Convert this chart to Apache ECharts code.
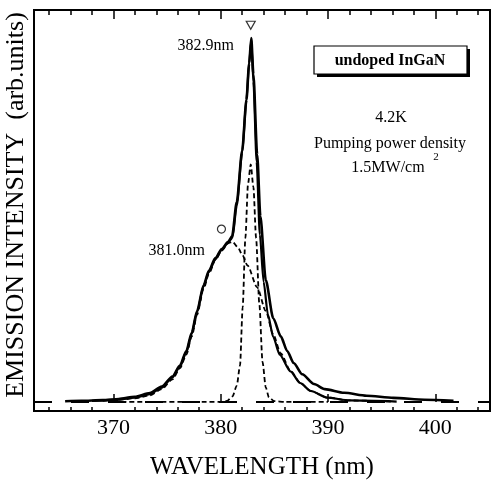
<!DOCTYPE html>
<html>
<head>
<meta charset="utf-8">
<script src="https://cdn.jsdelivr.net/npm/echarts@6/dist/echarts.min.js"></script>
<style>
html,body{margin:0;padding:0;background:#fff;}
#chart{width:492px;height:485px;}
</style>
</head>
<body>
<div id="chart"></div>
<script>
// ---- data ----
const majorTicks = [370, 380, 390, 400];
const minorTicks = [364, 366, 368, 372, 374, 376, 378, 382, 384, 386, 388, 392, 394, 396, 398, 402, 404];

// measured spectrum (outer solid line)
const measured = [
  [365.5,0.002],[367,0.003],[369,0.005],[370.5,0.008],[372,0.014],[373.4,0.024],[374.5,0.042],
  [375.5,0.07],[376.2,0.1],[376.8,0.14],[377.3,0.19],[377.8,0.25],[378.4,0.32],[378.9,0.36],
  [379.5,0.395],[380.1,0.42],[380.7,0.44],[381.06,0.455],[381.5,0.55],[382.0,0.69],[382.4,0.83],
  [382.65,0.93],[382.85,1.0],[383.05,0.9],[383.4,0.68],[383.7,0.51],[384.2,0.335],[384.9,0.23],
  [385.6,0.18],[386.2,0.14],[386.8,0.107],[387.6,0.076],[388.7,0.049],[389.7,0.035],[391.5,0.025],
  [393.6,0.017],[396.1,0.011],[399,0.006],[401.7,0.003]
];

// fitted sum (inner solid line)
const fitSum = [
  [368,0.003],[370,0.005],[372,0.012],[373.4,0.021],[374.5,0.039],[375.5,0.067],[376.2,0.097],
  [376.8,0.137],[377.3,0.187],[377.8,0.247],[378.4,0.317],[378.9,0.357],[379.5,0.392],[380.1,0.418],
  [380.7,0.438],[381.1,0.452],[381.5,0.54],[382.0,0.685],[382.4,0.83],[382.65,0.93],[382.85,0.99],
  [383.05,0.88],[383.35,0.66],[383.65,0.46],[384.0,0.33],[384.4,0.24],[384.9,0.178],[385.5,0.13],
  [386.5,0.084],[387.4,0.052],[388.4,0.03],[389.9,0.012],[392,0.004],[396.4,0.001]
];

// broad component (dashed), peak near 381.0 nm
const broadBand = [
  [369,0.003],[370.5,0.006],[372,0.01],[373.4,0.018],[374.5,0.035],[375.5,0.062],[376.2,0.092],
  [376.8,0.13],[377.3,0.18],[377.8,0.24],[378.4,0.31],[378.9,0.352],[379.5,0.39],[380.1,0.416],
  [380.7,0.436],[381.1,0.44],[381.6,0.425],[382.0,0.405],[382.5,0.375],[383.4,0.315],[384.2,0.25],
  [384.9,0.185],[385.6,0.133],[386.5,0.086],[387.4,0.053],[388.4,0.03],[389.9,0.012],[392,0.004],[396,0.001]
];

// narrow component (dashed), peak near 382.9 nm
const narrowBand = [
  [370,0],[380,0],[380.6,0.003],[381.1,0.015],[381.5,0.045],[381.8,0.1],[382.05,0.26],[382.3,0.45],
  [382.55,0.6],[382.8,0.653],[383.05,0.59],[383.3,0.45],[383.6,0.27],[383.9,0.11],[384.2,0.04],
  [384.5,0.012],[385,0.002],[386,0],[390,0]
];

// peak markers
const triangleMark = [[382.8, 1.035]];
const circleMark = [[380.07, 0.475]];

const FONT = '"Liberation Serif", "Times New Roman", serif';
const chart = echarts.init(document.getElementById('chart'), null, {renderer: 'canvas'});

const xBase = {
  type: 'value', min: 362.6, max: 405.1, gridIndex: 0,
  axisLine: {show: false}, splitLine: {show: false}
};

const option = {
  animation: false,
  backgroundColor: '#fff',
  grid: {left: 34, right: 2, top: 10, bottom: 72, show: true, borderColor: '#000', borderWidth: 2, backgroundColor: 'transparent'},
  xAxis: [
    Object.assign({}, xBase, {
      position: 'bottom',
      axisTick: {show: true, inside: true, length: 8, lineStyle: {color: '#000', width: 1.5}, customValues: majorTicks},
      axisLabel: {show: true, customValues: majorTicks, color: '#000', fontFamily: FONT, fontSize: 22, margin: 6},
      name: 'WAVELENGTH (nm)', nameLocation: 'middle', nameGap: 44,
      nameTextStyle: {color: '#000', fontFamily: FONT, fontSize: 25}
    }),
    Object.assign({}, xBase, {
      position: 'bottom',
      axisTick: {show: true, inside: true, length: 4, lineStyle: {color: '#000', width: 1.5}, customValues: minorTicks},
      axisLabel: {show: false}
    }),
    Object.assign({}, xBase, {
      position: 'top',
      axisTick: {show: true, inside: true, length: 9, lineStyle: {color: '#000', width: 1.5}, customValues: majorTicks},
      axisLabel: {show: false}
    }),
    Object.assign({}, xBase, {
      position: 'top',
      axisTick: {show: true, inside: true, length: 5, lineStyle: {color: '#000', width: 1.5}, customValues: minorTicks},
      axisLabel: {show: false}
    })
  ],
  yAxis: {
    type: 'value', min: -0.025, max: 1.077,
    axisLine: {show: false}, axisTick: {show: false}, axisLabel: {show: false}, splitLine: {show: false}
  },
  series: [
    {
      type: 'line', name: 'narrow', data: narrowBand, showSymbol: false, smooth: 0.25, smoothMonotone: 'x',
      lineStyle: {color: '#000', width: 1.8, type: [5, 3]}, z: 2
    },
    {
      type: 'line', name: 'broad', data: broadBand, showSymbol: false, smooth: 0.25, smoothMonotone: 'x',
      lineStyle: {color: '#000', width: 1.8, type: [5, 3]}, z: 2
    },
    {
      type: 'line', name: 'fit', data: fitSum, showSymbol: false, smooth: 0.25, smoothMonotone: 'x',
      lineStyle: {color: '#000', width: 2.2}, z: 3
    },
    {
      type: 'line', name: 'measured', data: measured, showSymbol: false, smooth: 0.25, smoothMonotone: 'x',
      lineStyle: {color: '#000', width: 2.6}, z: 4,
      markLine: {
        silent: true, symbol: 'none', label: {show: false},
        lineStyle: {color: '#000', width: 2, type: [18, 19]},
        data: [{yAxis: 0}]
      }
    },
    {
      type: 'scatter', data: triangleMark, symbol: 'triangle', symbolRotate: 180, symbolSize: [9, 8],
      itemStyle: {color: '#fff', borderColor: '#000', borderWidth: 1.2}, z: 5
    },
    {
      type: 'scatter', data: circleMark, symbol: 'circle', symbolSize: 8,
      itemStyle: {color: '#fff', borderColor: '#000', borderWidth: 1.2}, z: 5
    }
  ],
  graphic: [
    {type: 'text', x: 16, y: 205, rotation: Math.PI / 2,
     style: {text: 'EMISSION INTENSITY  (arb.units)', font: '26px ' + FONT, fill: '#000', align: 'center', verticalAlign: 'middle'}},
    {type: 'text', x: 234, y: 46,
     style: {text: '382.9nm', font: '16px ' + FONT, fill: '#000', align: 'right', verticalAlign: 'middle'}},
    {type: 'text', x: 205, y: 251,
     style: {text: '381.0nm', font: '16px ' + FONT, fill: '#000', align: 'right', verticalAlign: 'middle'}},
    {type: 'rect', shape: {x: 317, y: 49, width: 153, height: 28}, style: {fill: '#000'}, z: 10},
    {type: 'rect', shape: {x: 314, y: 46, width: 153, height: 28}, style: {fill: '#fff', stroke: '#000', lineWidth: 1.2}, z: 11},
    {type: 'text', x: 390, y: 61, z: 12,
     style: {text: 'undoped InGaN', font: 'bold 16px ' + FONT, fill: '#000', align: 'center', verticalAlign: 'middle'}},
    {type: 'text', x: 391, y: 118, z: 12,
     style: {text: '4.2K', font: '16px ' + FONT, fill: '#000', align: 'center', verticalAlign: 'middle'}},
    {type: 'text', x: 390, y: 144, z: 12,
     style: {text: 'Pumping power density', font: '16px ' + FONT, fill: '#000', align: 'center', verticalAlign: 'middle'}},
    {type: 'text', x: 388, y: 168, z: 12,
     style: {text: '1.5MW/cm', font: '16px ' + FONT, fill: '#000', align: 'center', verticalAlign: 'middle'}},
    {type: 'text', x: 436, y: 157, z: 12,
     style: {text: '2', font: '11px ' + FONT, fill: '#000', align: 'center', verticalAlign: 'middle'}}
  ]
};
chart.setOption(option);
</script>
</body>
</html>
